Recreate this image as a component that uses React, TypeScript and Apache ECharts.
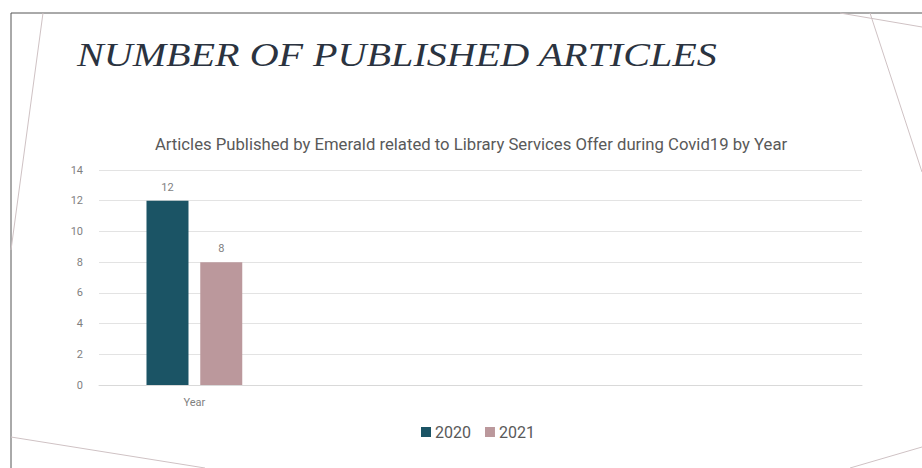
import React, { useEffect, useRef } from "react";
import * as echarts from "echarts";

const categories: string[] = ["Year"];
const emptySlots: string[] = ["", "", ""];
const seriesNames: string[] = ["2020", "2021"];
const values2020: number[] = [12];
const values2021: number[] = [8];
const yTicks = { min: 0, max: 14, interval: 2 };

const pageTitle = "NUMBER OF PUBLISHED ARTICLES";
const chartTitle =
  "Articles Published by Emerald related to Library Services Offer during Covid19 by Year";

const sansFont = "'Roboto', sans-serif";

export default function App() {
  const ref = useRef<HTMLDivElement>(null);
  useEffect(() => {
    if (!ref.current) return;
    const chart = echarts.init(ref.current, undefined, { renderer: "svg" });
    const deco = "#cfc2c4";
    chart.setOption({
      animation: false,
      backgroundColor: "#ffffff",
      title: {
        text: chartTitle,
        left: 466,
        textAlign: "center",
        top: 131,
        textStyle: {
          fontFamily: sansFont,
          fontSize: 16.7,
          fontWeight: "normal",
          color: "#595959",
        },
      },
      legend: {
        data: seriesNames,
        top: 419,
        left: 416,
        itemWidth: 10,
        itemHeight: 10,
        itemGap: 14,
        icon: "rect",
        textStyle: { fontFamily: sansFont, fontSize: 16, color: "#595959", padding: [0, 0, 0, -1] },
      },
      grid: { left: 99, right: 60, top: 170, bottom: 83 },
      xAxis: {
        type: "category",
        data: [...categories, ...emptySlots],
        axisTick: { show: false },
        axisLine: { lineStyle: { color: "#d9d9d9" } },
        axisLabel: {
          fontFamily: sansFont,
          fontSize: 11,
          color: "#7f7f7f",
          margin: 12,
        },
      },
      yAxis: {
        type: "value",
        min: yTicks.min,
        max: yTicks.max,
        interval: yTicks.interval,
        axisLine: { show: false },
        axisTick: { show: false },
        axisLabel: {
          fontFamily: sansFont,
          fontSize: 11,
          color: "#7f7f7f",
          margin: 16,
        },
        splitLine: { lineStyle: { color: "#e3e3e3" } },
      },
      series: [
        {
          name: seriesNames[0],
          type: "bar",
          data: values2020,
          barWidth: 42,
          barGap: "28%",
          itemStyle: { color: "#1b5465" },
          label: {
            show: true,
            position: "top",
            distance: 8,
            fontFamily: sansFont,
            fontSize: 11,
            color: "#7f7f7f",
          },
        },
        {
          name: seriesNames[1],
          type: "bar",
          data: values2021,
          barWidth: 42,
          barGap: "28%",
          itemStyle: { color: "#bb989c" },
          label: {
            show: true,
            position: "top",
            distance: 8,
            fontFamily: sansFont,
            fontSize: 11,
            color: "#7f7f7f",
          },
        },
      ],
      graphic: [
        {
          type: "text",
          x: 77,
          y: 38,
          scaleX: 1.18,
          style: {
            text: pageTitle,
            fontFamily: "'Liberation Serif', 'DejaVu Serif', serif",
            fontStyle: "italic",
            fontSize: 34,
            fill: "#2b3340",
          },
        },
        { type: "line", shape: { x1: 11, y1: 13, x2: 922, y2: 13 }, style: { stroke: "#555555", lineWidth: 1 } },
        { type: "line", shape: { x1: 11, y1: 13, x2: 11, y2: 468 }, style: { stroke: "#555555", lineWidth: 1 } },
        { type: "line", shape: { x1: 43, y1: 13, x2: 11, y2: 250 }, style: { stroke: deco, lineWidth: 1 } },
        { type: "line", shape: { x1: 11, y1: 437, x2: 205, y2: 468 }, style: { stroke: deco, lineWidth: 1 } },
        { type: "line", shape: { x1: 840, y1: 13, x2: 922, y2: 27 }, style: { stroke: deco, lineWidth: 1 } },
        { type: "line", shape: { x1: 870, y1: 13, x2: 922, y2: 172 }, style: { stroke: deco, lineWidth: 1 } },
        { type: "line", shape: { x1: 850, y1: 468, x2: 922, y2: 447 }, style: { stroke: deco, lineWidth: 1 } },
      ],
    });
    return () => chart.dispose();
  }, []);
  return (
    <div
      ref={ref}
      style={{ position: "fixed", left: 0, top: 0, width: 922, height: 468 }}
    />
  );
}
